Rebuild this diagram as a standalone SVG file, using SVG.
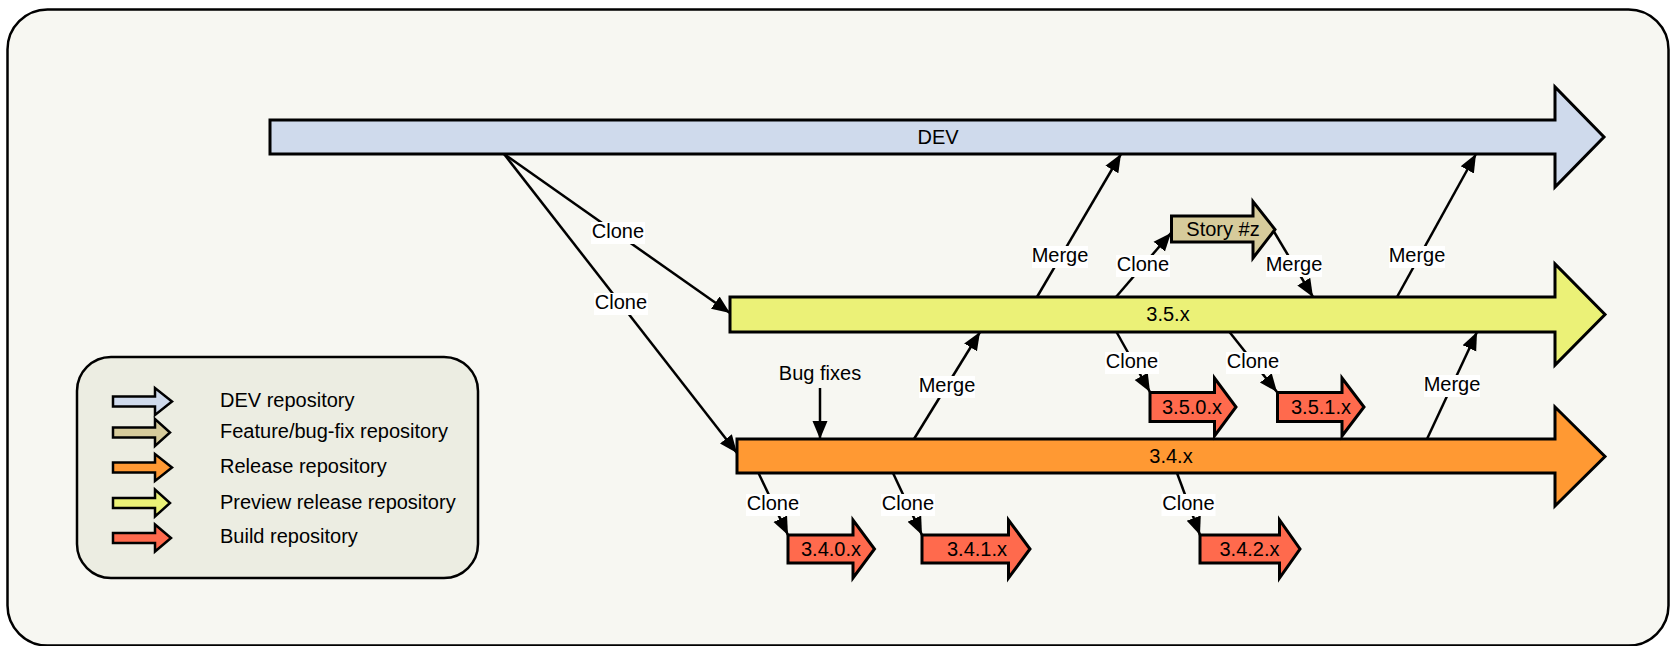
<svg xmlns="http://www.w3.org/2000/svg" width="1671" height="646" viewBox="0 0 1671 646">
<defs>
<marker id="ah" markerUnits="userSpaceOnUse" markerWidth="20" markerHeight="18" viewBox="0 0 20 18" refX="18" refY="9" orient="auto">
<path d="M0,1.5 L18,9 L0,16.5 Z" fill="#000"/>
</marker>
<style>
.bar{stroke:#000;stroke-width:3;stroke-linejoin:miter}
.leg{stroke:#000;stroke-width:2.5;stroke-linejoin:miter}
.dev{fill:#cfdaec}
.feat{fill:#d6cb9b}
.rel{fill:#ff9933}
.pre{fill:#ebf177}
.bld{fill:#ff6a4d}
text{font-family:"Liberation Sans",Arial,sans-serif;font-size:20px;fill:#000}
.c{text-anchor:middle}
.conn line{stroke:#000;stroke-width:2.5;marker-end:url(#ah)}
.lbl rect{fill:#fff}
</style>
</defs>
<rect x="0" y="0" width="1671" height="646" fill="#fff"/>
<rect x="7.5" y="9.5" width="1661" height="636" rx="40" ry="40" fill="#f7f7f2" stroke="#000" stroke-width="2.5"/>

<g id="legend">
<rect x="77" y="357" width="401" height="221" rx="34" ry="34" fill="#ecede2" stroke="#000" stroke-width="2.5"/>
<path class="leg dev" d="M113,396.5 H155 V388 L172,401.5 L155,415 V406.5 H113 Z"/>
<path class="leg feat" d="M113,427.5 H155 V419 L170,432.5 L155,446 V437.5 H113 Z"/>
<path class="leg rel" d="M113,462.5 H155 V454 L172,467.5 L155,481 V472.5 H113 Z"/>
<path class="leg pre" d="M113,498 H155 V489.5 L170,503 L155,516.5 V508 H113 Z"/>
<path class="leg bld" d="M113,533 H155 V524.5 L171,538 L155,551.5 V543 H113 Z"/>
<text x="220" y="407">DEV repository</text>
<text x="220" y="438">Feature/bug-fix repository</text>
<text x="220" y="473">Release repository</text>
<text x="220" y="509">Preview release repository</text>
<text x="220" y="543">Build repository</text>
</g>

<g id="conn" class="conn">
<line x1="504" y1="154" x2="730" y2="313"/>
<line x1="504" y1="154" x2="737" y2="453"/>
<line x1="820" y1="388" x2="820" y2="439"/>
<line x1="914" y1="439" x2="980" y2="332"/>
<line x1="1037" y1="297" x2="1121" y2="154"/>
<line x1="1116" y1="297" x2="1171" y2="233"/>
<line x1="1273" y1="230" x2="1313" y2="297"/>
<line x1="1397" y1="297" x2="1476" y2="154"/>
<line x1="1427" y1="439" x2="1477" y2="332"/>
<line x1="1116.5" y1="332" x2="1150" y2="392"/>
<line x1="1229.5" y1="332" x2="1277" y2="392"/>
<line x1="758.5" y1="473" x2="788" y2="535"/>
<line x1="893" y1="473" x2="922" y2="535"/>
<line x1="1177" y1="473" x2="1200" y2="535"/>
</g>

<g id="labels" class="lbl">
<rect x="591" y="222" width="54" height="22"/><text class="c" x="618" y="238">Clone</text>
<rect x="594" y="293" width="54" height="22"/><text class="c" x="621" y="309">Clone</text>
<text class="c" x="820" y="380">Bug fixes</text>
<rect x="919" y="376" width="56" height="22"/><text class="c" x="947" y="392">Merge</text>
<rect x="1032" y="246" width="56" height="22"/><text class="c" x="1060" y="262">Merge</text>
<rect x="1116" y="255" width="54" height="22"/><text class="c" x="1143" y="271">Clone</text>
<rect x="1266" y="255" width="56" height="22"/><text class="c" x="1294" y="271">Merge</text>
<rect x="1389" y="246" width="56" height="22"/><text class="c" x="1417" y="262">Merge</text>
<rect x="1424" y="375" width="56" height="22"/><text class="c" x="1452" y="391">Merge</text>
<rect x="1105" y="352" width="54" height="22"/><text class="c" x="1132" y="368">Clone</text>
<rect x="1226" y="352" width="54" height="22"/><text class="c" x="1253" y="368">Clone</text>
<rect x="746" y="494" width="54" height="22"/><text class="c" x="773" y="510">Clone</text>
<rect x="881" y="494" width="54" height="22"/><text class="c" x="908" y="510">Clone</text>
<rect x="1161.5" y="494" width="54" height="22"/><text class="c" x="1188.5" y="510">Clone</text>
</g>

<g id="dev"><path class="bar dev" d="M270,120 H1555 V87 L1604,137 L1555,187 V154 H270 Z"/><text class="c" x="938" y="144">DEV</text></g>
<g id="r35"><path class="bar pre" d="M730,297 H1555 V264 L1605,314.5 L1555,365 V332 H730 Z"/><text class="c" x="1168" y="321">3.5.x</text></g>
<g id="r34"><path class="bar rel" d="M737,439 H1555 V407 L1605,456.5 L1555,506 V473 H737 Z"/><text class="c" x="1171" y="463">3.4.x</text></g>
<g id="story"><path class="bar feat" d="M1171.5,216 H1253 V201.5 L1275,229.5 L1253,258 V242 H1171.5 Z"/><text class="c" x="1223" y="236">Story #z</text></g>
<g id="b350"><path class="bar bld" d="M1150,392.5 H1214.5 V378 L1236,407 L1214.5,436 V421.5 H1150 Z"/><text class="c" x="1192" y="414">3.5.0.x</text></g>
<g id="b351"><path class="bar bld" d="M1277.5,392.5 H1342 V378 L1364,407 L1342,436 V421.5 H1277.5 Z"/><text class="c" x="1321" y="414">3.5.1.x</text></g>
<g id="b340"><path class="bar bld" d="M788,535 H853 V520 L874.5,549 L853,578 V563 H788 Z"/><text class="c" x="831" y="556">3.4.0.x</text></g>
<g id="b341"><path class="bar bld" d="M922,535 H1008.5 V520 L1030,549 L1008.5,578 V563 H922 Z"/><text class="c" x="977" y="556">3.4.1.x</text></g>
<g id="b342"><path class="bar bld" d="M1200,535 H1279.5 V520 L1300,549 L1279.5,578 V563 H1200 Z"/><text class="c" x="1249.5" y="556">3.4.2.x</text></g>
</svg>
